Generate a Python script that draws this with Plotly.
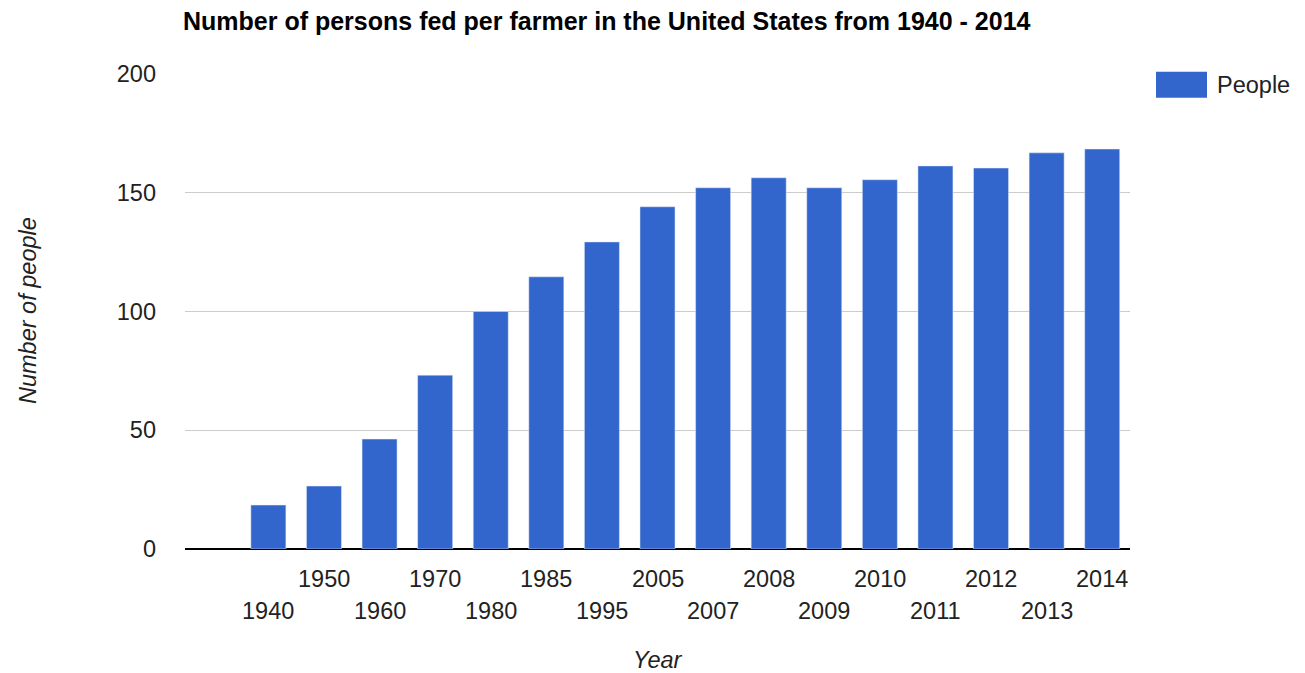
import plotly.graph_objects as go

years = ["1940", "1950", "1960", "1970", "1980", "1985", "1995", "2005",
         "2007", "2008", "2009", "2010", "2011", "2012", "2013", "2014"]
people = [18.5, 26.5, 46.3, 73.2, 100, 114.6, 129.3, 144.1,
          152.1, 156.3, 152.1, 155.5, 161.3, 160.4, 166.8, 168.4]
y_ticks = [0, 50, 100, 150, 200]

FONT = "Arial, 'Liberation Sans', sans-serif"
BLUE = "#3366cc"
TXT = "#222222"
FS = 23.5

# first category slot is left empty, as in the original
xpos = [i + 1 for i in range(len(years))]

fig = go.Figure()
fig.add_trace(go.Bar(x=xpos, y=people, name="People", marker_color=BLUE,
                     width=0.63, showlegend=False,
                     hovertemplate="%{text}: %{y}<extra></extra>", text=years,
                     textposition="none"))

annotations = []
for i, (xp, yr) in enumerate(zip(xpos, years)):
    row = 2 if i % 2 == 0 else 1
    annotations.append(dict(x=xp, y=0, xref="x", yref="paper", text=yr,
                            showarrow=False, yanchor="middle", xanchor="center",
                            yshift=-30 if row == 1 else -62,
                            font=dict(family=FONT, size=FS, color=TXT)))

annotations += [
    dict(x=(28 - 185) / 945, y=(549 - 311) / 475, xref="paper", yref="paper",
         text="Number of people", textangle=-90, showarrow=False,
         xanchor="center", yanchor="middle",
         font=dict(family=FONT, size=FS, color=TXT, style="italic")),
    dict(x=(658 - 185) / 945, y=0, xref="paper", yref="paper", yshift=-111,
         text="Year", showarrow=False, xanchor="center", yanchor="middle",
         font=dict(family=FONT, size=FS, color=TXT, style="italic")),
    dict(x=(1215 - 185) / 945, y=(549 - 85) / 475, xref="paper", yref="paper",
         text="People", showarrow=False, xanchor="left", yanchor="middle",
         font=dict(family=FONT, size=FS, color=TXT)),
]

fig.update_layout(
    width=1305, height=673,
    margin=dict(l=185, r=175, t=74, b=124, pad=0),
    paper_bgcolor="white", plot_bgcolor="white",
    title=dict(text="<b>Number of persons fed per farmer in the United States from 1940 - 2014</b>",
               x=183 / 1305, xanchor="left", xref="container",
               y=1 - 21 / 673, yanchor="middle", yref="container",
               font=dict(family=FONT, size=25, color="#000000")),
    bargap=0.37,
    xaxis=dict(range=[-0.5, len(years) + 0.5], showticklabels=False,
               showgrid=False, zeroline=False, showline=False, fixedrange=True),
    yaxis=dict(range=[0, 200], tickvals=y_ticks, ticktext=[str(v) for v in y_ticks],
               showgrid=True, gridcolor="#cccccc", gridwidth=1,
               zeroline=True, zerolinecolor="#000000", zerolinewidth=2,
               showline=False, ticks="", ticklabelstandoff=28,
               tickfont=dict(family=FONT, size=FS, color=TXT)),
    annotations=annotations,
    shapes=[dict(type="rect", xref="paper", yref="paper",
                 x0=(1156 - 185) / 945, x1=(1207 - 185) / 945,
                 y0=(549 - 97.7) / 475, y1=(549 - 71.7) / 475,
                 fillcolor=BLUE, line=dict(width=0))],
    showlegend=False,
)

fig.write_html("out.html")
